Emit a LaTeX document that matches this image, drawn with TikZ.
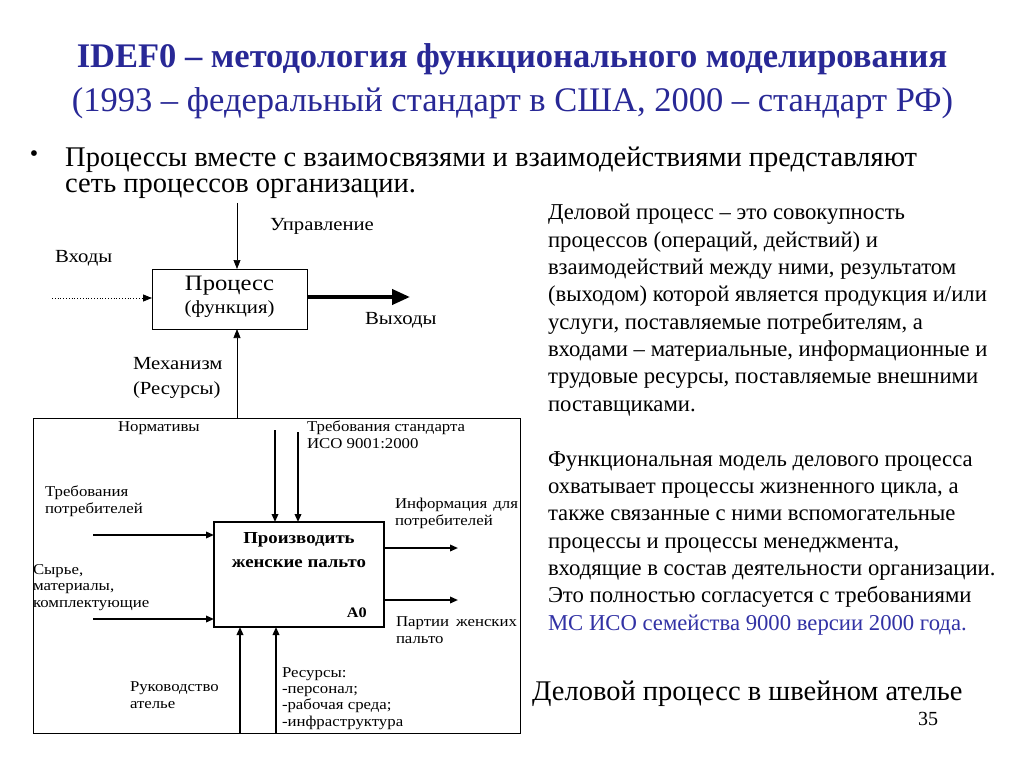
\documentclass[tikz,border=0pt]{standalone}
\usepackage{fontspec}
\usepackage{graphicx}
\setmainfont{Liberation Serif}
\newfontfamily\widefont[FakeStretch=1.12]{Liberation Serif}
\usetikzlibrary{arrows.meta}
\definecolor{tblue}{RGB}{40,40,150}
\definecolor{lblue}{RGB}{50,50,165}
\newcommand{\fs}[1]{\fontsize{#1}{#1}\selectfont}
\begin{document}
\begin{tikzpicture}[x=1pt,y=-1pt,
  lbl/.style={inner sep=0pt, outer sep=0pt, align=left, font=\widefont\fontsize{15}{16.3}\selectfont, anchor=base west},
  tlbl/.style={inner sep=0pt, outer sep=0pt, align=left, font=\widefont\fontsize{18.5}{24.5}\selectfont, anchor=base west},
  thinarrow/.style={line width=0.7pt, -{Triangle[length=9pt,width=7pt]}},
  fatarrow/.style={line width=4pt, -{Triangle[length=18pt,width=15pt]}},
  darrow/.style={line width=1.8pt, -{Triangle[length=8pt,width=6.5pt]}},
  para/.style={inner sep=0pt, outer sep=0pt, align=left, anchor=base west, font=\fontsize{22.7}{27.3}\selectfont}
]
\useasboundingbox (0,0) rectangle (1024,767);
\fill[white] (0,0) rectangle (1024,767);

% title
\node[tblue, inner sep=0pt, anchor=base, font=\bfseries\fs{34.5}] (t1) at (512,68) {IDEF0 – методология функционального моделирования};
\node[tblue, inner sep=0pt, anchor=base, font=\fs{34.5}] (t2) at (512.5,112) {(1993 – федеральный стандарт в США, 2000 – стандарт РФ)};

% bullet
\node[inner sep=0pt, font=\fs{24}] (bul) at (34,156) {•};
\node[inner sep=0pt, anchor=base west, align=left, font=\fontsize{28.5}{26}\selectfont] (btext) at (65,193) {Процессы вместе с взаимосвязями и взаимодействиями представляют\\сеть процессов организации.};

% top diagram
\node[draw, line width=0.7pt, minimum width=155pt, minimum height=60pt, outer sep=0pt, anchor=north west] (p) at (152,269) {};
\node[inner sep=0pt, anchor=base, font=\widefont\fs{22}] (ptext1) at (229.5,290) {Процесс};
\node[inner sep=0pt, anchor=base, font=\widefont\fs{18.5}] (ptext2) at (229.5,313) {(функция)};
\coordinate (c0) at (237,203);
\draw[thinarrow] (c0) -- (c0 |- p.north);
\node[tlbl] (lctl) at (270,230) {Управление};
\node[tlbl] (lin) at (55,262) {Входы};
\coordinate (i0) at (52,298);
\draw[dotted, line width=0.8pt, -{Triangle[length=9pt,width=7pt]}] (i0) -- (i0 -| p.west);
\coordinate (o1) at (410,297);
\draw[fatarrow] (o1 -| p.east) -- (o1);
\node[tlbl] (lout) at (365,324) {Выходы};
\node[tlbl] (lmech) at (133,394) {Механизм\\(Ресурсы)};

% lower frame
\node[draw, line width=0.8pt, minimum width=487pt, minimum height=315pt, outer sep=0pt, anchor=north west] (fr) at (33,418) {};
\coordinate (mt) at (237,418);
\draw[thinarrow] (mt) -- (mt |- p.south);

\node[draw, line width=1.2pt, minimum width=170pt, minimum height=105pt, outer sep=0pt, anchor=north west] (a0) at (214,522) {};
\node[inner sep=0pt, anchor=base, font=\widefont\bfseries\fs{16.8}] (a0t1) at (299,543) {Производить};
\node[inner sep=0pt, anchor=base, font=\widefont\bfseries\fs{16.8}] (a0t2) at (299,567) {женские пальто};
\node[inner sep=0pt, anchor=base east, font=\widefont\bfseries\fs{14.5}] (a0id) at (367,617) {A0};

\node[lbl] (lnorm) at (118,431) {Нормативы};
\node[lbl] (lstd) at (307,448) {Требования стандарта\\ИСО 9001:2000};
\node[lbl] (lreq) at (45,513) {Требования\\потребителей};
\node[lbl] (lraw) at (33,607) {Сырье,\\материалы,\\комплектующие};
\node[lbl] (linfo) at (395,525) {\hbox to 123pt{Информация\hfill для}\\потребителей};
\node[lbl] (lpart) at (396,643) {\hbox to 121pt{Партии\hfill женских}\\пальто};
\node[lbl] (lman) at (130,708) {Руководство\\ателье};
\node[lbl] (lres) at (282,726) {Ресурсы:\\-персонал;\\-рабочая среда;\\-инфраструктура};

\coordinate (k1) at (275,430);
\coordinate (k2) at (298,432);
\draw[darrow] (k1) -- (k1 |- a0.north);
\draw[darrow] (k2) -- (k2 |- a0.north);
\coordinate (in1) at (93,535);
\coordinate (in2) at (93,619);
\draw[darrow] (in1) -- (in1 -| a0.west);
\draw[darrow] (in2) -- (in2 -| a0.west);
\coordinate (out1) at (458,548);
\coordinate (out2) at (458,600);
\draw[darrow] (out1 -| a0.east) -- (out1);
\draw[darrow] (out2 -| a0.east) -- (out2);
\coordinate (m1) at (240,733);
\coordinate (m2) at (276,733);
\draw[darrow] (m1) -- (m1 |- a0.south);
\draw[darrow] (m2) -- (m2 |- a0.south);

% right text
\node[para] (par1) at (548,411) {Деловой процесс – это совокупность\\процессов (операций, действий) и\\взаимодействий между ними, результатом\\(выходом) которой является продукция и/или\\услуги, поставляемые потребителям, а\\входами – материальные, информационные и\\трудовые ресурсы, поставляемые внешними\\поставщиками.};
\node[para] (par2) at (548,630) {Функциональная модель делового процесса\\охватывает процессы жизненного цикла, а\\также связанные с ними вспомогательные\\процессы и процессы менеджмента,\\входящие в состав деятельности организации.\\Это полностью согласуется с требованиями\\\textcolor{lblue}{МС ИСО семейства 9000 версии 2000 года.}};

\node[inner sep=0pt, anchor=base west, font=\fs{28.5}] (cap) at (532,700) {Деловой процесс в швейном ателье};
\node[inner sep=0pt, anchor=base west, font=\fs{20}] (pg) at (918,725) {35};
\end{tikzpicture}
\end{document}
